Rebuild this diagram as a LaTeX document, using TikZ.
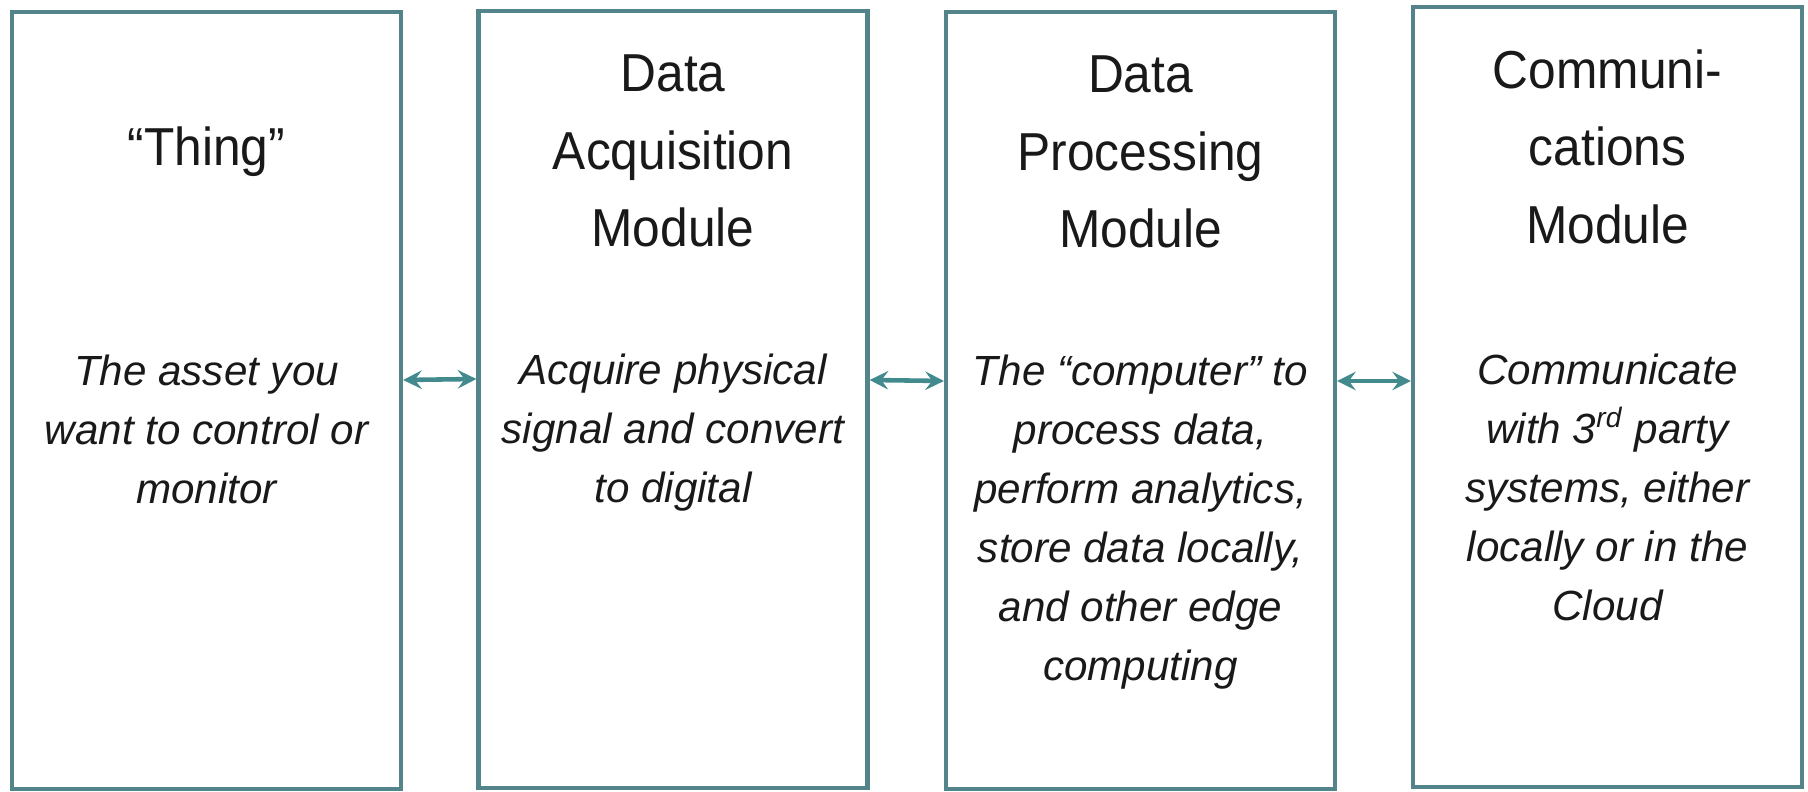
\documentclass[tikz,border=0pt]{standalone}
\usepackage{fontspec}
\setmainfont{Liberation Sans}
\newfontfamily\titlefont{Liberation Sans}[FakeStretch=0.93]
\usetikzlibrary{positioning}
\definecolor{boxline}{RGB}{82,132,138}
\definecolor{linkcol}{RGB}{66,138,142}
\begin{document}
\begin{tikzpicture}[>=stealth,x=1.0cm,y=1.0cm,
	modbox/.style={draw=boxline,line width=1.2pt,fill=white,minimum width=3.89cm,minimum height=7.77cm,inner sep=0pt},
	modtitle/.style={align=center,inner sep=0pt,text=black!90,font=\titlefont\fontsize{15.2}{22.1}\selectfont},
	modtext/.style={align=center,inner sep=0pt,text=black!90,font=\fontsize{12}{16.8}\selectfont\itshape},
	link/.style={<->,draw=linkcol,line width=1.3pt}]
	\useasboundingbox (0,0) rectangle (18.08,7.91);
	\node[modbox] (thing) at (2.065,3.905) {};
	\node[modbox] (acq) at (6.73,3.915) {};
	\node[modbox] (proc) at (11.405,3.905) {};
	\node[modbox,minimum height=7.8cm] (comm) at (16.075,3.94) {};
	\node[modtitle] (thingtitle) at ([yshift=-14.2mm]thing.north) {“Thing”};
	\node[modtitle] (acqtitle) at ([yshift=-14.2mm]acq.north) {Data\\Acquisition\\Module};
	\node[modtitle] (proctitle) at ([yshift=-14.2mm]proc.north) {Data\\Processing\\Module};
	\node[modtitle] (commtitle) at ([yshift=-14.2mm]comm.north) {Communi-\\cations\\Module};
	\node[modtext,below=34.4mm of thing.north] (thingtext) {The asset you\\want to control or\\monitor};
	\node[modtext,below=34.4mm of acq.north] (acqtext) {Acquire physical\\signal and convert\\to digital};
	\node[modtext,below=34.4mm of proc.north] (proctext) {The “computer” to\\process data,\\perform analytics,\\store data locally,\\and other edge\\computing};
	\node[modtext,below=34.8mm of comm.north] (commtext) {Communicate\\with 3\textsuperscript{rd} party\\systems, either\\locally or in the\\Cloud};
	\draw[link] ([yshift=2.05mm]thing.east) -- ([yshift=2.05mm]acq.west);
	\draw[link] ([yshift=1.95mm]acq.east) -- ([yshift=1.95mm]proc.west);
	\draw[link] ([yshift=1.95mm]proc.east) -- ([yshift=1.95mm]proc.east -| comm.west);
\end{tikzpicture}
\end{document}
